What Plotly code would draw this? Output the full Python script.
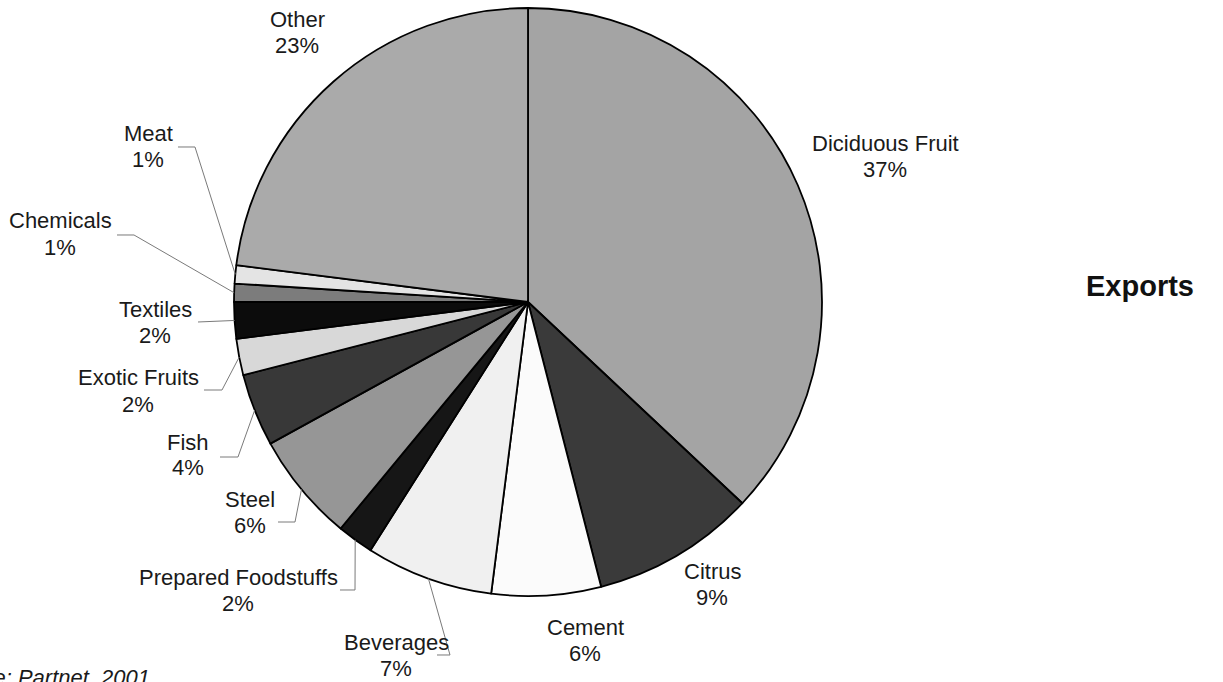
import math
import plotly.graph_objects as go

# Export categories, clockwise from 12 o'clock
categories = ["Diciduous Fruit", "Citrus", "Cement", "Beverages", "Prepared Foodstuffs",
              "Steel", "Fish", "Exotic Fruits", "Textiles", "Chemicals", "Meat", "Other"]
shares = [37, 9, 6, 7, 2, 6, 4, 2, 2, 1, 1, 23]

slice_colors = ["#a4a4a4", "#3a3a3a", "#fbfbfb", "#f0f0f0", "#161616", "#969696",
                "#383838", "#d8d8d8", "#0c0c0c", "#7c7c7c", "#e4e4e4", "#aaaaaa"]

W, H = 1223, 682
CX, CY, R = 528, 302, 294  # pie centre and radius in pixels
FONT = "Liberation Sans, Arial"
LABEL_SIZE = 22

# Label placement in pixels: text centre x, baseline-ish y of name line and of percent line
label_pos = {
    "Diciduous Fruit": (885, 143, 169),
    "Citrus": (712, 571, 597),
    "Cement": (585, 627, 653),
    "Beverages": (396, 642, 668),
    "Prepared Foodstuffs": (238, 577, 603),
    "Steel": (250, 499, 525),
    "Fish": (188, 442, 468),
    "Exotic Fruits": (138, 378, 404),
    "Textiles": (155, 309, 335),
    "Chemicals": (60, 221, 247),
    "Meat": (148, 133, 159),
    "Other": (297, 20, 46),
}
# Elbow points of the leader lines; the last point is on the slice's outer edge
leader_path = {
    "Beverages": [(437, 655), (450, 655)],
    "Prepared Foodstuffs": [(340, 590), (355, 590)],
    "Steel": [(278, 522), (295, 522)],
    "Fish": [(220, 457), (238, 457)],
    "Exotic Fruits": [(204, 390), (222, 390)],
    "Textiles": [(198, 322)],
    "Chemicals": [(117, 235), (134, 235)],
    "Meat": [(178, 147), (195, 147)],
}


def px(x, y):
    return x / W, 1 - y / H


fig = go.Figure(go.Pie(
    labels=categories,
    values=shares,
    sort=False,
    direction="clockwise",
    rotation=0,
    textinfo="none",
    hoverinfo="label+percent",
    marker=dict(colors=slice_colors, line=dict(color="#000000", width=1.8)),
    domain=dict(x=[(CX - R) / W, (CX + R) / W], y=[1 - (CY + R) / H, 1 - (CY - R) / H]),
    showlegend=False,
))

total = sum(shares)
cum = 0
shapes = []
annotations = []
for name, v in zip(categories, shares):
    mid = (cum + v / 2) / total * 2 * math.pi
    cum += v
    ex, ey = CX + R * math.sin(mid), CY - R * math.cos(mid)
    if name in leader_path:
        pts = leader_path[name] + [(ex, ey)]
        d = "M " + " L ".join(f"{px(a, b)[0]:.5f},{px(a, b)[1]:.5f}" for a, b in pts)
        shapes.append(dict(type="path", xref="paper", yref="paper", path=d,
                           line=dict(color="#7a7a7a", width=1)))
    lx, ly1, ly2 = label_pos[name]
    for text, ly in ((name, ly1), (f"{v}%", ly2)):
        annotations.append(dict(
            x=px(lx, ly)[0], y=px(lx, ly)[1], xref="paper", yref="paper",
            text=text, showarrow=False, xanchor="center", yanchor="middle",
            font=dict(family=FONT, size=LABEL_SIZE, color="#1a1a1a"),
        ))

annotations.append(dict(
    x=px(1140, 286)[0], y=px(1140, 286)[1], xref="paper", yref="paper",
    text="<b>Exports</b>", showarrow=False, xanchor="center", yanchor="middle",
    font=dict(family=FONT, size=29, color="#111111"),
))
annotations.append(dict(
    x=px(152, 677)[0], y=px(152, 677)[1], xref="paper", yref="paper",
    text="<i>Source: Partnet, 2001</i>", showarrow=False, xanchor="right", yanchor="middle",
    font=dict(family=FONT, size=LABEL_SIZE, color="#1a1a1a"),
))

fig.update_layout(
    width=W, height=H,
    margin=dict(l=0, r=0, t=0, b=0),
    paper_bgcolor="white",
    plot_bgcolor="white",
    shapes=shapes,
    annotations=annotations,
)

fig.write_html("out.html")
